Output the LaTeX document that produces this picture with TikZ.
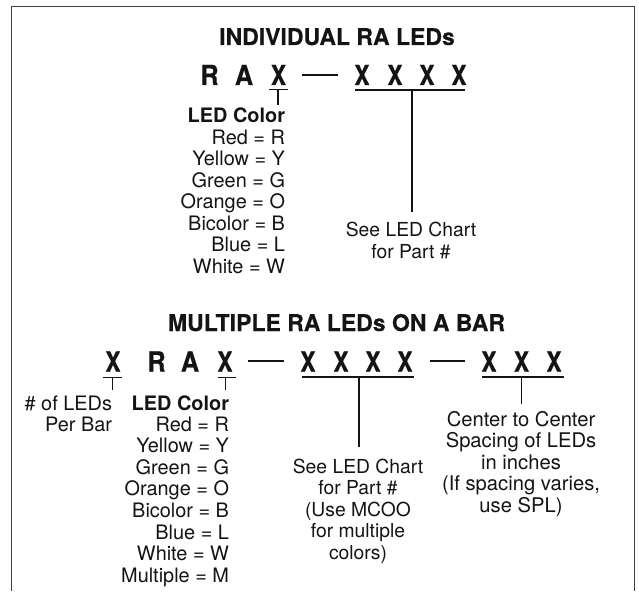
\documentclass[tikz,border=0pt]{standalone}
\usepackage{graphicx}
\usepackage{fontspec}
\setmainfont{TeX Gyre Heros}
\newfontfamily\heavyfont[FakeBold=0.6]{TeX Gyre Heros Bold}
\newfontfamily\semifont[FakeBold=0.25]{TeX Gyre Heros Bold}
\newcommand{\bigch}[1]{\scalebox{.82}[1]{#1}}
\newcommand{\bigrr}[1]{\scalebox{.92}[1]{#1}}
\tikzset{
  every node/.style={inner sep=0pt,outer sep=0pt,text=black!92},
  titletext/.style={anchor=base,font=\fontsize{23}{24}\semifont},
  bigletter/.style={anchor=base,font=\fontsize{27.5}{28}\heavyfont},
  keytext/.style={anchor=base east,font=\fontsize{19.9}{21}\selectfont},
  keyhead/.style={anchor=base east,font=\fontsize{19.9}{21}\selectfont\bfseries},
  notetext/.style={anchor=base,font=\fontsize{19.3}{21}\selectfont},
  spacetext/.style={anchor=base,font=\fontsize{20.2}{21}\selectfont},
  frameline/.style={draw=black!75,line width=1pt},
  heavy/.style={draw=black!92,line width=2pt},
  stem/.style={draw=black!92,line width=1.5pt},
  thinstem/.style={draw=black!92,line width=1.1pt}
}
\begin{document}
\begin{tikzpicture}[x=1pt,y=-1pt]
\useasboundingbox (0,0) rectangle (639,591);
\fill[white] (0,0) rectangle (639,591);
% frame
\coordinate (fbl) at (11.5,591);
\coordinate (ftl) at (11.5,7);
\coordinate (ftr) at (634.5,7);
\coordinate (fbr) at (634.5,591);
\draw[frameline] (fbl) -- (ftl) -- (ftr) -- (fbr);

% ---------- Individual ----------
\node[titletext] (t1) at (337,45) {INDIVIDUAL RA LEDs};
\node[bigletter] (ar) at (209.5,85) {\bigrr{R}};
\node[bigletter] (aa) at (244,85) {\bigrr{A}};
\node[bigletter] (ax) at (278.5,85) {\bigch{X}};
\node[bigletter] (ax1) at (362,85) {\bigch{X}};
\node[bigletter] (ax2) at (395,85) {\bigch{X}};
\node[bigletter] (ax3) at (427,85) {\bigch{X}};
\node[bigletter] (ax4) at (459,85) {\bigch{X}};
\coordinate (ad1) at (302,75);
\coordinate (ad2) at (338,75);
\draw[heavy] (ad1) -- (ad2);
\coordinate (au1) at (269,89.7);
\coordinate (au2) at (287.5,89.7);
\coordinate (aus) at (278,89.7);
\coordinate (aue) at (278,105);
\draw[thinstem] (au1) -- (au2);
\draw[thinstem] (aus) -- (aue);
\coordinate (av1) at (355,90.5);
\coordinate (av2) at (464.5,90.5);
\coordinate (avs) at (412,90.5);
\coordinate (ave) at (412,212);
\draw[heavy] (av1) -- (av2);
\draw[stem] (avs) -- (ave);

\node[keyhead] (ah) at (285,122.7) {LED Color};
\node[keytext] (a1) at (285,144.5) {Red = R};
\node[keytext] (a2) at (285,165.7) {Yellow = Y};
\node[keytext] (a3) at (285,187.3) {Green = G};
\node[keytext] (a4) at (285,208.5) {Orange = O};
\node[keytext] (a5) at (285,230.3) {Bicolor = B};
\node[keytext] (a6) at (285,251.7) {Blue = L};
\node[keytext] (a7) at (285,273) {White = W};
\node[notetext] (an1) at (411,236.7) {See LED Chart};
\node[notetext] (an2) at (411,258.3) {for Part \#};

% ---------- Multiple ----------
\node[titletext] (t2) at (336.5,331) {MULTIPLE RA LEDs ON A BAR};
\node[bigletter] (bn) at (113,371.5) {\bigch{X}};
\node[bigletter] (br) at (156.5,371.5) {\bigrr{R}};
\node[bigletter] (ba) at (190,371.5) {\bigrr{A}};
\node[bigletter] (bx) at (225,371.5) {\bigch{X}};
\node[bigletter] (bx1) at (308,371.5) {\bigch{X}};
\node[bigletter] (bx2) at (341,371.5) {\bigch{X}};
\node[bigletter] (bx3) at (373,371.5) {\bigch{X}};
\node[bigletter] (bx4) at (405,371.5) {\bigch{X}};
\node[bigletter] (bs1) at (489,371.5) {\bigch{X}};
\node[bigletter] (bs2) at (521.5,371.5) {\bigch{X}};
\node[bigletter] (bs3) at (554,371.5) {\bigch{X}};
\coordinate (bd1) at (248,360.7);
\coordinate (bd2) at (283.5,360.7);
\draw[heavy] (bd1) -- (bd2);
\coordinate (bd3) at (429.5,360.7);
\coordinate (bd4) at (465,360.7);
\draw[heavy] (bd3) -- (bd4);

\coordinate (bu1) at (103,377.3);
\coordinate (bu2) at (122,377.3);
\coordinate (bus) at (112.5,377.3);
\coordinate (bue) at (112.5,390);
\draw[thinstem] (bu1) -- (bu2);
\draw[thinstem] (bus) -- (bue);
\coordinate (bw1) at (218,377.3);
\coordinate (bw2) at (236,377.3);
\coordinate (bws) at (225.7,377.3);
\coordinate (bwe) at (225.7,390);
\draw[thinstem] (bw1) -- (bw2);
\draw[thinstem] (bws) -- (bwe);
\coordinate (bv1) at (302,377.3);
\coordinate (bv2) at (414,377.3);
\coordinate (bvs) at (359,377.3);
\coordinate (bve) at (359,447);
\draw[heavy] (bv1) -- (bv2);
\draw[stem] (bvs) -- (bve);
\coordinate (by1) at (482,377.3);
\coordinate (by2) at (564,377.3);
\coordinate (bys) at (521.5,377.3);
\coordinate (bye) at (521.5,404);
\draw[heavy] (by1) -- (by2);
\draw[stem] (bys) -- (bye);

\node[keytext] (bp1) at (112,410) {\# of LEDs};
\node[keytext] (bp2) at (112,431.7) {Per Bar};
\node[keyhead] (bh) at (229,410) {LED Color};
\node[keytext] (b1) at (229,431.5) {Red = R};
\node[keytext] (b2) at (229,452.7) {Yellow = Y};
\node[keytext] (b3) at (229,474.3) {Green = G};
\node[keytext] (b4) at (229,495.5) {Orange = O};
\node[keytext] (b5) at (229,517.5) {Bicolor = B};
\node[keytext] (b6) at (229,539) {Blue = L};
\node[keytext] (b7) at (229,560.5) {White = W};
\node[keytext] (b8) at (229,582) {Multiple = M};

\node[notetext] (bn1) at (358,473) {See LED Chart};
\node[notetext] (bn2) at (358,494.6) {for Part \#};
\node[notetext] (bn3) at (358,516) {(Use MCOO};
\node[notetext] (bn4) at (358,537.5) {for multiple};
\node[notetext] (bn5) at (358,559.5) {colors)};
\node[spacetext] (bc1) at (521,426) {Center to Center};
\node[spacetext] (bc2) at (521,447.5) {Spacing of LEDs};
\node[spacetext] (bc3) at (521,469) {in inches};
\node[spacetext] (bc4) at (521,490.3) {(If spacing varies,};
\node[spacetext] (bc5) at (521,512) {use SPL)};
\end{tikzpicture}
\end{document}
